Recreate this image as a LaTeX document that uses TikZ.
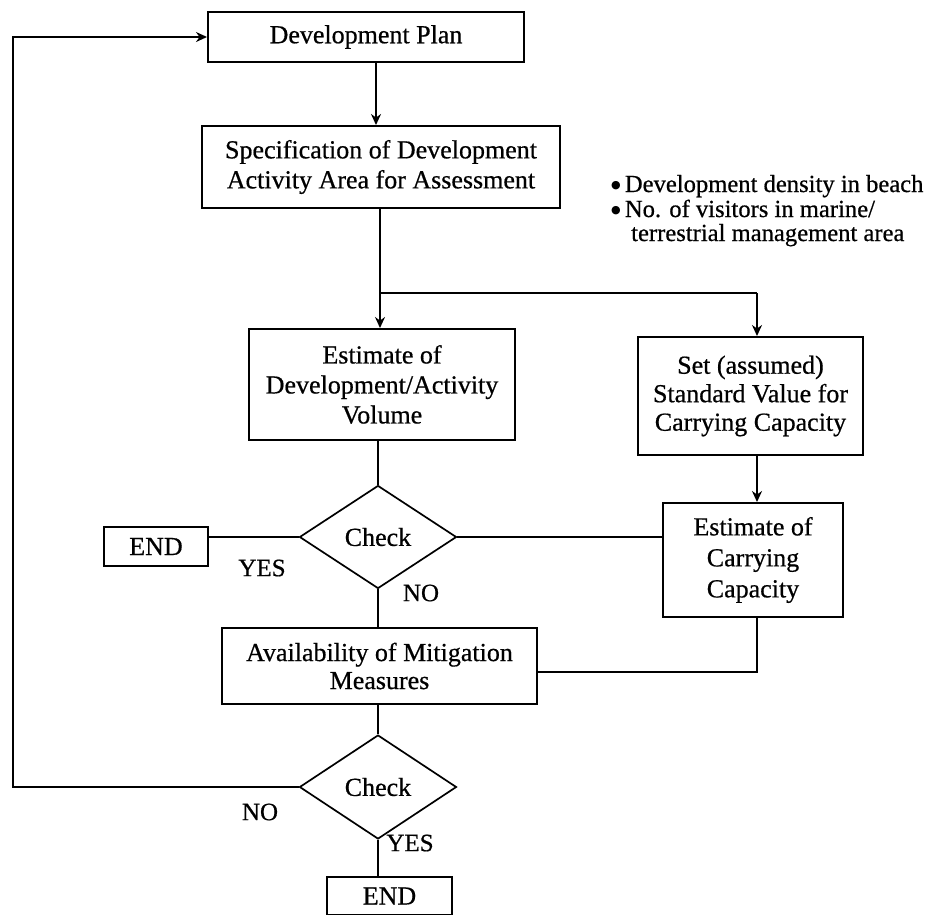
\documentclass[tikz,border=0pt]{standalone}
\usepackage{fontspec}
\setmainfont{Liberation Serif}[FakeBold=0.6]
\newfontfamily\symfont{DejaVu Sans}
\usetikzlibrary{shapes.geometric,arrows.meta,calc}
\newcommand{\blt}{\raisebox{4pt}{\symfont\fontsize{11}{11}\selectfont ●}}
\begin{document}
\begin{tikzpicture}[x=1pt,y=-1pt,
  every node/.style={font=\fontsize{26}{30}\selectfont},
  box/.style={draw,line width=2pt,rectangle,align=center,inner sep=0pt},
  dia/.style={draw,line width=1.7pt,diamond,inner sep=0pt,minimum width=157pt,minimum height=103pt},
  conn/.style={line width=2pt},
  arr/.style={conn,-{Stealth[length=11pt,width=10pt]}},
  lbl/.style={inner sep=0pt,font=\fontsize{25}{30}\selectfont},
  note/.style={inner sep=0pt,anchor=base west,font=\fontsize{24.6}{25}\selectfont}]
\useasboundingbox (0,0) rectangle (933,914);
% boxes
\node[box,minimum width=316pt,minimum height=50pt] (dp) at (366,37) {Development Plan};
\node[box,minimum width=358pt,minimum height=82pt] (spec) at (381,167) {Specification of Development\\Activity Area for Assessment};
\node[box,minimum width=266pt,minimum height=111pt] (est) at (382,384.5) {Estimate of\\Development/Activity\\Volume};
\node[box,minimum width=225pt,minimum height=118pt,font=\fontsize{26}{28.5}\selectfont] (set) at (750.5,396) {Set (assumed)\\Standard Value for\\Carrying Capacity};
\node[dia] (c1) at (378,537) {Check};
\node[box,minimum width=104pt,minimum height=39pt] (e1) at (156,546.5) {END};
\node[box,minimum width=180pt,minimum height=114pt,font=\fontsize{26}{31}\selectfont] (cc) at (753,560) {Estimate of\\Carrying\\Capacity};
\node[box,minimum width=315pt,minimum height=76pt,font=\fontsize{26}{28}\selectfont] (avail) at (379.5,666) {Availability of Mitigation\\Measures};
\node[dia,minimum height=104pt] (c2) at (378,787) {Check};
\node[box,minimum width=125pt,minimum height=38pt] (e2) at (389.5,896) {END};
% labels
\node[lbl] (yes1) at (262,568) {YES};
\node[lbl] (no1) at (421,593) {NO};
\node[lbl] (no2) at (260,812) {NO};
\node[lbl] (yes2) at (410,843) {YES};
% notes
\node[note] (n1) at (611,192) {\blt\,Development density in beach};
\node[note] (n2) at (611,217) {\blt\,No. of visitors in marine/};
\node[note] (n3) at (631,241) {terrestrial management area};
% coordinates
\coordinate (P) at (376,0);
\coordinate (J) at (380,293);
\coordinate (K) at (757,293);
\coordinate (L) at (757,672);
\coordinate (M) at (13,787);
% connectors
\draw[arr] (dp.south -| P) -- (P |- spec.north);
\draw[conn] (spec.south -| J) -- (J);
\draw[arr] (J) -- (J |- est.north);
\draw[conn] (J) -- (K);
\draw[arr] (K) -- (K |- set.north);
\draw[arr] (set.south -| K) -- (K |- cc.north);
\draw[conn] (est.south -| c1.north) -- (c1.north);
\draw[conn] (c1.west) -- (c1.west -| e1.east);
\draw[conn] (c1.east) -- (c1.east -| cc.west);
\draw[conn] (c1.south) -- (c1.south |- avail.north);
\draw[conn] (cc.south -| K) -- (L) -- (L -| avail.east);
\draw[conn] (avail.south -| c2.north) -- (c2.north);
\draw[conn] (c2.south) -- (c2.south |- e2.north);
\draw[arr] (c2.west) -- (M) -- (M |- dp.west) -- (dp.west);
\end{tikzpicture}
\end{document}
